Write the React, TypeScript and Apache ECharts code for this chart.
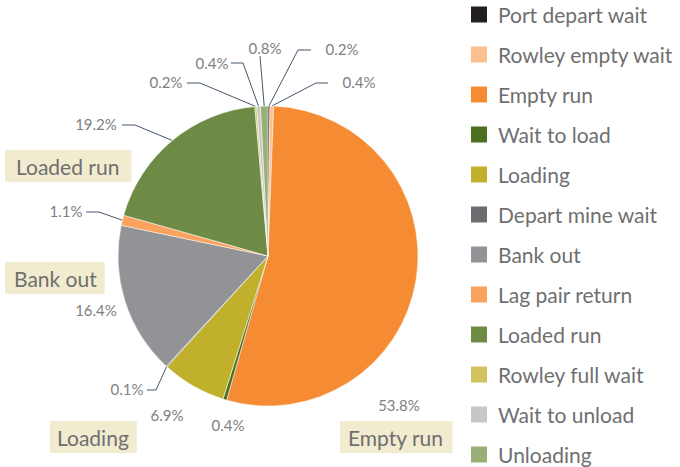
import React, { useEffect, useRef } from "react";
import * as echarts from "echarts";

const categories = [
  "Port depart wait",
  "Rowley empty wait",
  "Empty run",
  "Wait to load",
  "Loading",
  "Depart mine wait",
  "Bank out",
  "Lag pair return",
  "Loaded run",
  "Rowley full wait",
  "Wait to unload",
  "Unloading",
];

const shares = [0.2, 0.4, 53.8, 0.4, 6.9, 0.1, 16.4, 1.1, 19.2, 0.2, 0.4, 0.8];

const colors = [
  "#231f20",
  "#fcc08f",
  "#f58c34",
  "#4a7020",
  "#c0b02c",
  "#6b6b70",
  "#929396",
  "#f9a35e",
  "#6e8b45",
  "#d2c25e",
  "#c6c7c8",
  "#9aaf78",
];

const highlighted = ["Loaded run", "Bank out", "Loading", "Empty run"];

// label placements (text centre, and extra label-line points after the slice edge)
const labelPlacement: { x: number; y: number; line: number[][] | null }[] = [
  { x: 342, y: 49, line: [[298, 50], [311, 50]] },
  { x: 359, y: 82, line: [[316, 83], [328, 83]] },
  { x: 399, y: 405, line: null },
  { x: 228, y: 425, line: null },
  { x: 167, y: 415, line: null },
  { x: 127, y: 389, line: [[156, 390], [147, 390]] },
  { x: 96, y: 310, line: null },
  { x: 66, y: 211, line: [[99, 212], [86, 212]] },
  { x: 96, y: 124, line: [[135, 125], [122, 125]] },
  { x: 166, y: 82, line: [[200, 83], [187, 83]] },
  { x: 212, y: 63, line: [[243, 63], [231, 63]] },
  { x: 265, y: 48, line: [[260, 56]] },
];

const highlightBoxes: { left: number; top: number; pad: number[] }[] = [
  { left: 5, top: 150, pad: [6, 12, 6, 11] },
  { left: 5, top: 262, pad: [6, 8, 6, 9] },
  { left: 50, top: 421, pad: [6, 8, 6, 7] },
  { left: 340, top: 421, pad: [6, 9, 6, 8] },
];

const FONT = "Lato, 'Noto Sans', sans-serif";

export default function App() {
  const ref = useRef<HTMLDivElement>(null);
  useEffect(() => {
    document.body.style.margin = "0";
    if (!ref.current) return;
    const chart = echarts.init(ref.current, undefined, { renderer: "svg" });
    const cx = 268;
    const cy = 256;
    const r = 150;
    const total = shares.reduce((a, b) => a + b, 0);
    const edgePoint = (idx: number) => {
      let before = 0;
      for (let i = 0; i < idx; i++) before += shares[i];
      const mid = ((before + shares[idx] / 2) / total) * Math.PI * 2;
      return [cx + r * Math.sin(mid), cy - r * Math.cos(mid)];
    };
    chart.setOption({
      animation: false,
      color: colors,
      legend: {
        orient: "vertical",
        left: 469,
        top: 4,
        height: 520,
        padding: 0,
        itemWidth: 18,
        itemHeight: 18,
        itemGap: 19,
        icon: "rect",
        data: categories,
        textStyle: {
          fontFamily: FONT,
          fontSize: 21,
          color: "#6f6f6f",
          lineHeight: 20,
          padding: [0, 0, 0, 5],
        },
      },
      graphic: highlighted.map((t, i) => ({
        type: "text",
        left: highlightBoxes[i].left,
        top: highlightBoxes[i].top,
        style: {
          text: t,
          fontFamily: FONT,
          fontSize: 21,
          fill: "#6f6f6f",
          backgroundColor: "#f1ebcf",
          padding: highlightBoxes[i].pad,
          lineHeight: 20,
        },
      })),
      series: [
        {
          type: "pie",
          center: [cx, cy],
          radius: r,
          startAngle: 90,
          clockwise: true,
          avoidLabelOverlap: false,
          itemStyle: { borderColor: "#ffffff", borderWidth: 0.5 },
          label: {
            show: true,
            position: "outside",
            formatter: "{c}%",
            fontFamily: FONT,
            fontSize: 15,
            color: "#808080",
          },
          labelLine: {
            show: true,
            lineStyle: { color: "#44546a", width: 1 },
          },
          emphasis: { disabled: true },
          labelLayout: (params: any) => {
            const P = labelPlacement[params.dataIndex];
            const res: any = {
              x: P.x,
              y: P.y,
              align: "center",
              verticalAlign: "middle",
            };
            if (P.line) {
              const start =
                params.labelLinePoints && params.labelLinePoints[0]
                  ? params.labelLinePoints[0]
                  : edgePoint(params.dataIndex);
              res.labelLinePoints = [start, ...P.line];
            }
            return res;
          },
          data: categories.map((name, i) => ({
            name,
            value: shares[i],
            labelLine: { show: labelPlacement[i].line != null },
          })),
        },
      ],
    });
    return () => chart.dispose();
  }, []);
  return <div ref={ref} style={{ width: 680, height: 467 }} />;
}
